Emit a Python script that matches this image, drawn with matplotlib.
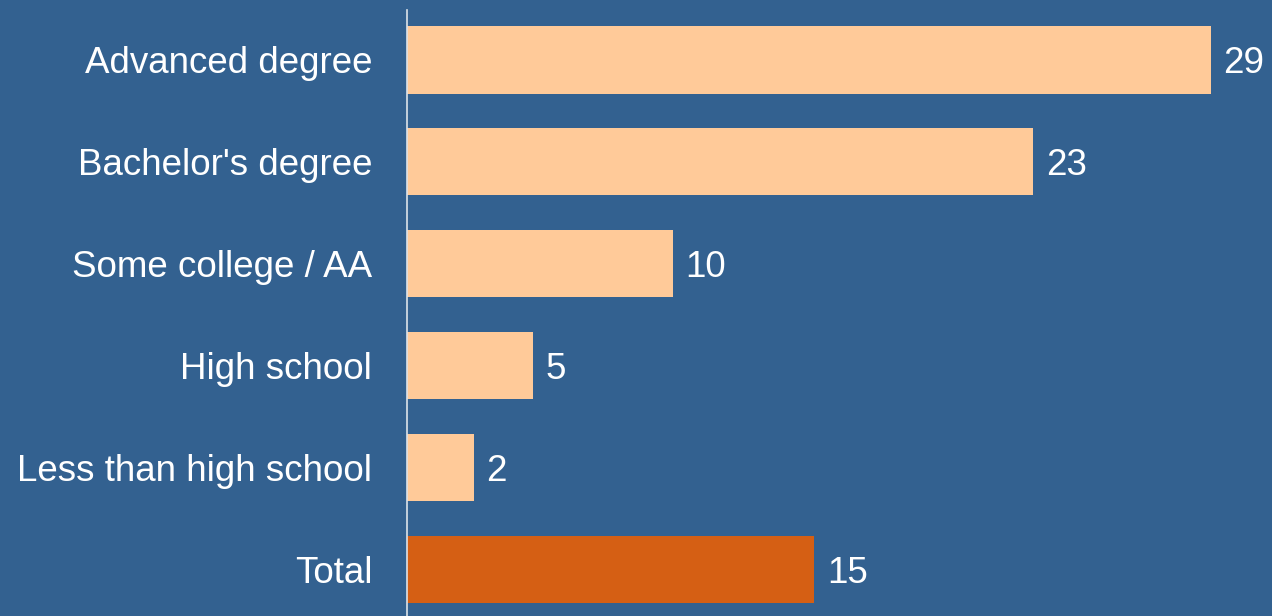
import matplotlib
matplotlib.use("Agg")
import matplotlib.pyplot as plt

categories = ["Advanced degree", "Bachelor's degree", "Some college / AA",
              "High school", "Less than high school", "Total"]
values = [29.0, 22.6, 9.6, 4.55, 2.4, 14.7]
labels = ["29", "23", "10", "5", "2", "15"]

bg = "#336190"
peach = "#FFCA99"
orange = "#D55F14"
colors = [peach] * 5 + [orange]

plt.rcParams['font.family'] = ['Liberation Sans', 'DejaVu Sans']

fig = plt.figure(figsize=(12.72, 6.16), dpi=100, facecolor=bg)
ax = fig.add_axes([407/1272, 0, 1 - 407/1272 - 6/1272, 1 - 10/616])
ax.set_facecolor(bg)

ypos = list(range(len(categories)))
ax.barh(ypos, values, height=0.66, color=colors)
for y, v, lab in zip(ypos, values, labels):
    ax.text(v + 0.45, y, lab, va="center_baseline", ha="left", color="white", fontsize=26.5)

ax.set_ylim(5.46, -0.49)
ax.set_xlim(0, 31)
ax.set_yticks(ypos)
ax.set_yticklabels(categories, color="white", fontsize=26.5)
for t in ax.get_yticklabels():
    t.set_verticalalignment("center_baseline")
ax.tick_params(axis="y", length=0, pad=25)
ax.set_xticks([])
for s in ["top", "right", "bottom"]:
    ax.spines[s].set_visible(False)
ax.spines["left"].set_color("#dde3ea")
ax.spines["left"].set_linewidth(1.2)

fig.savefig("out.png", dpi=100, facecolor=bg)
